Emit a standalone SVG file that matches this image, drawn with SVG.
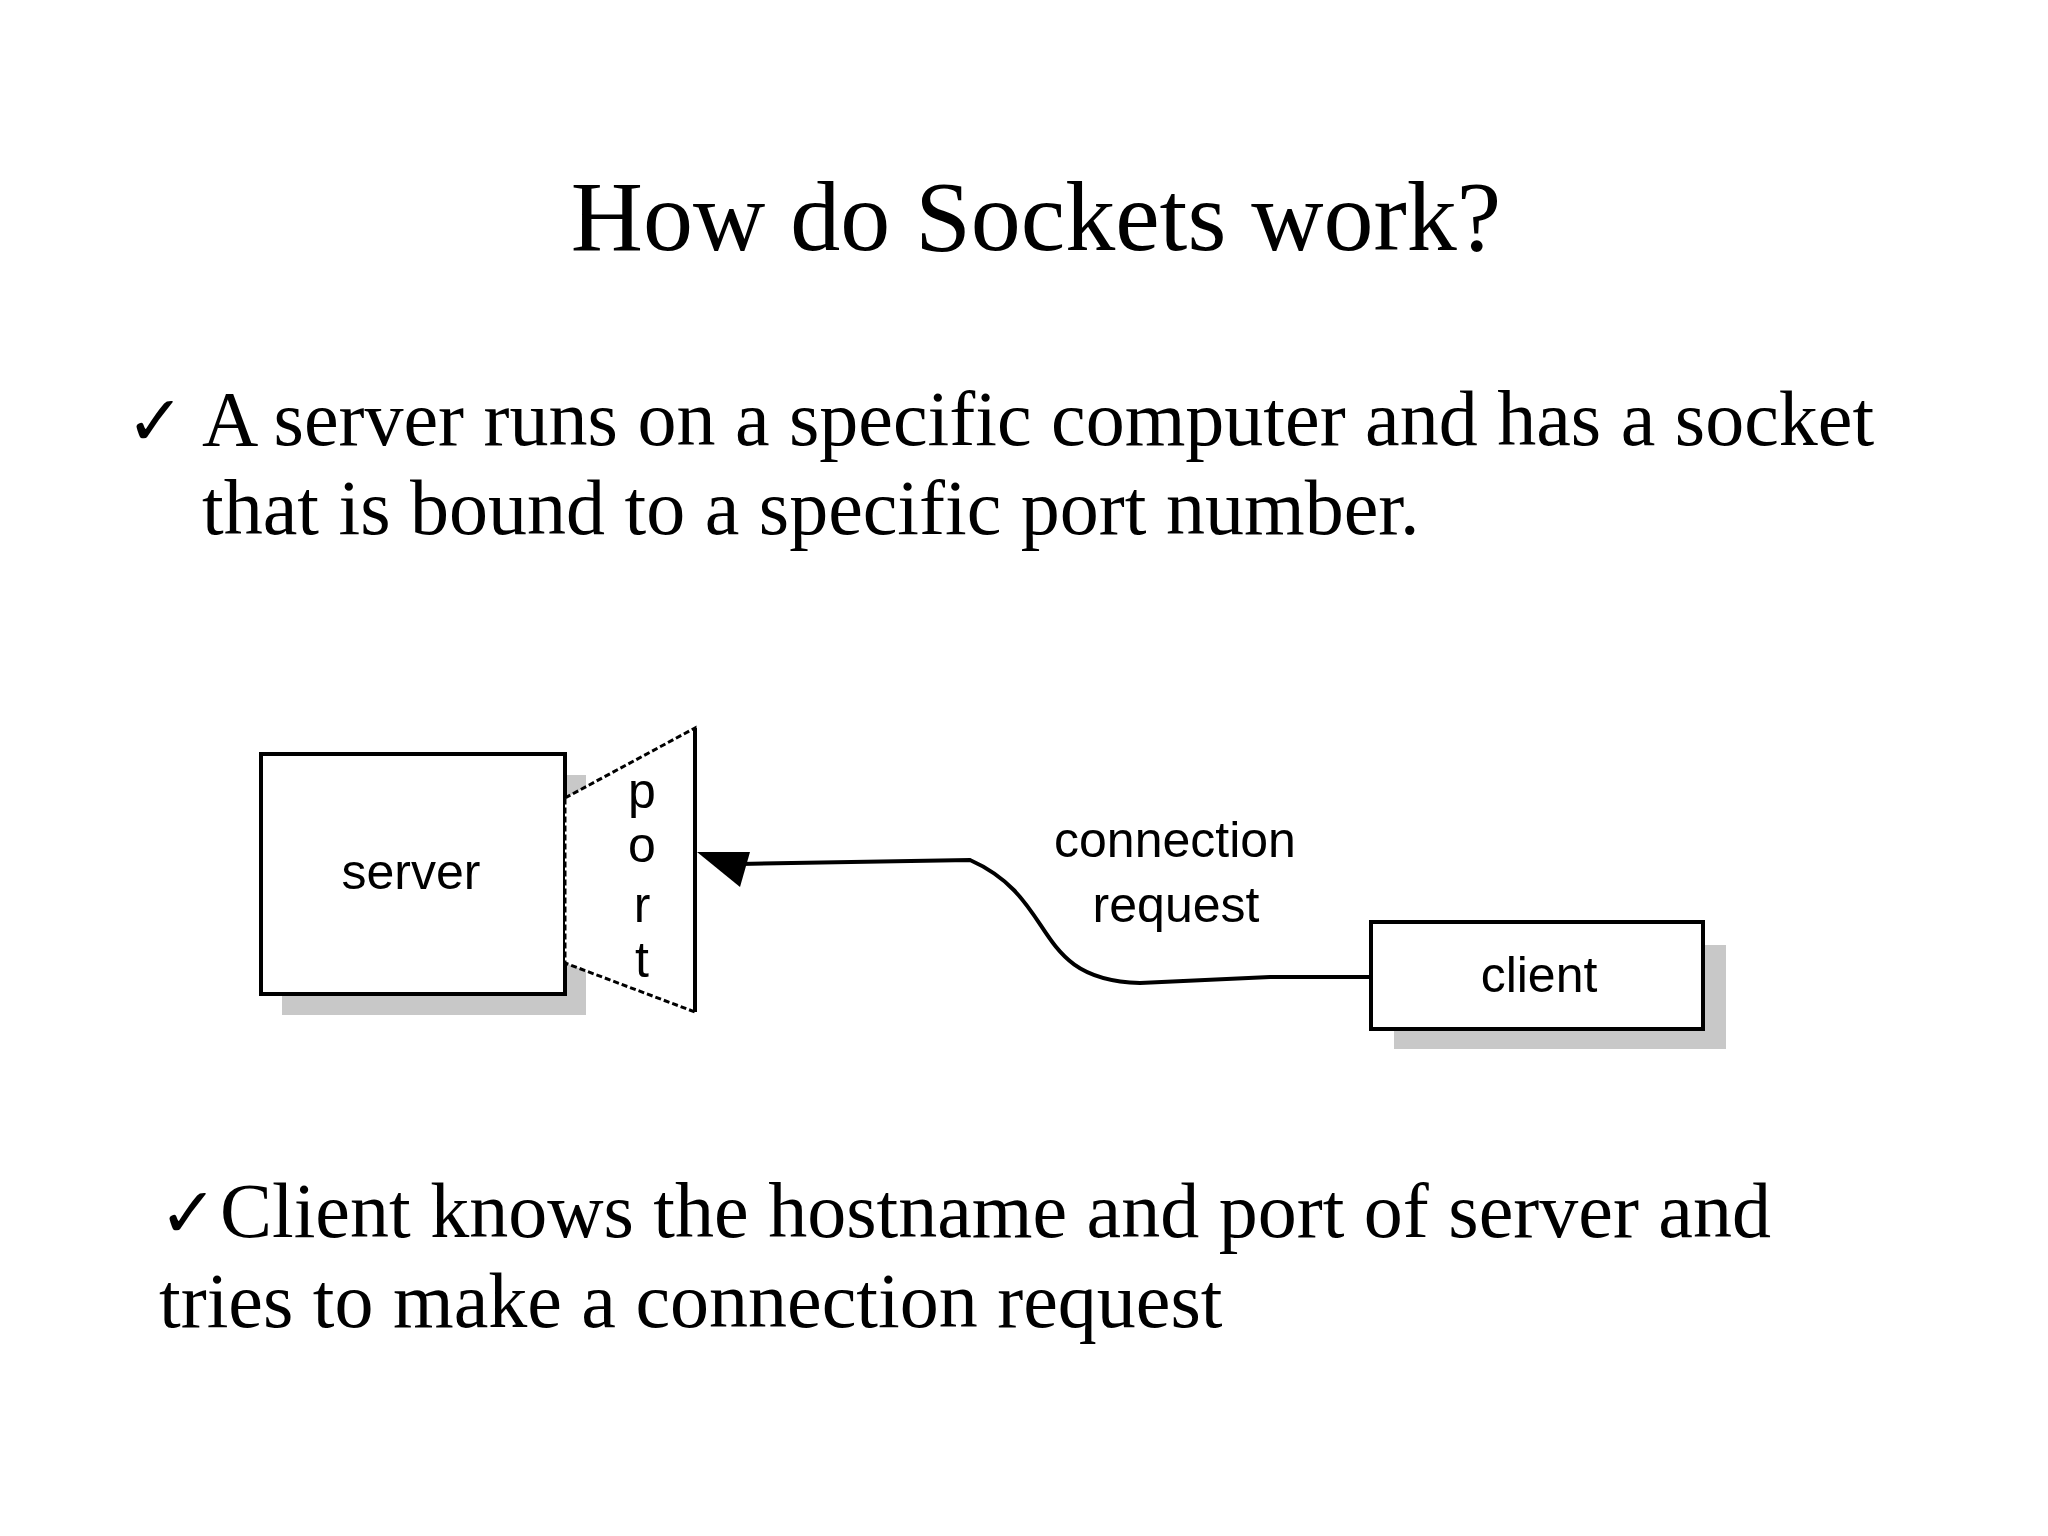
<svg xmlns="http://www.w3.org/2000/svg" width="2048" height="1536" viewBox="0 0 2048 1536">
<style>
.t{font-family:"Liberation Serif","Times New Roman",serif;fill:#000}
.d{font-family:"Liberation Sans",Arial,sans-serif;font-size:50px;fill:#000;text-anchor:middle}
.box{fill:#fff;stroke:#000;stroke-width:4}
.sh{fill:#c8c8c8}
</style>
<rect width="2048" height="1536" fill="#fff"/>
<text class="t" x="1036" y="250" font-size="100" text-anchor="middle">How do Sockets work?</text>
<text class="t" x="126" y="445" font-size="70">✓</text>
<text class="t" x="202" y="445" font-size="78">A server runs on a specific computer and has a socket</text>
<text class="t" x="202" y="534" font-size="78">that is bound to a specific port number.</text>
<g id="server">
<rect class="sh" x="282" y="775" width="304" height="240"/>
<rect class="box" x="261" y="754" width="304" height="240"/>
<text class="d" x="411" y="889">server</text>
</g>
<g id="port">
<polygon points="565,798 695,728 695,1012 565,963" fill="#fff" stroke="#000" stroke-width="3" stroke-dasharray="6,3"/>
<line x1="695" y1="728" x2="695" y2="1012" stroke="#000" stroke-width="4"/>
<text class="d" x="642" y="808">p</text>
<text class="d" x="642" y="862">o</text>
<text class="d" x="642" y="922">r</text>
<text class="d" x="642" y="977">t</text>
</g>
<g id="client">
<rect class="sh" x="1394" y="945" width="332" height="104"/>
<rect class="box" x="1371" y="922" width="332" height="107"/>
<text class="d" x="1539" y="992">client</text>
</g>
<g id="connectors">
<path d="M1371,977 L1270,977 L1140,983 C1030,980 1060,900 970,860 L740,864" fill="none" stroke="#000" stroke-width="4"/>
<polygon points="697,852 750,852 740,887" fill="#000"/>
<text class="d" x="1175" y="857">connection</text>
<text class="d" x="1176" y="922">request</text>
</g>
<text class="t" x="159" y="1237" font-size="70">✓</text>
<text class="t" x="220" y="1237" font-size="78">Client knows the hostname and port of server and</text>
<text class="t" x="159" y="1327" font-size="78">tries to make a connection request</text>
</svg>
